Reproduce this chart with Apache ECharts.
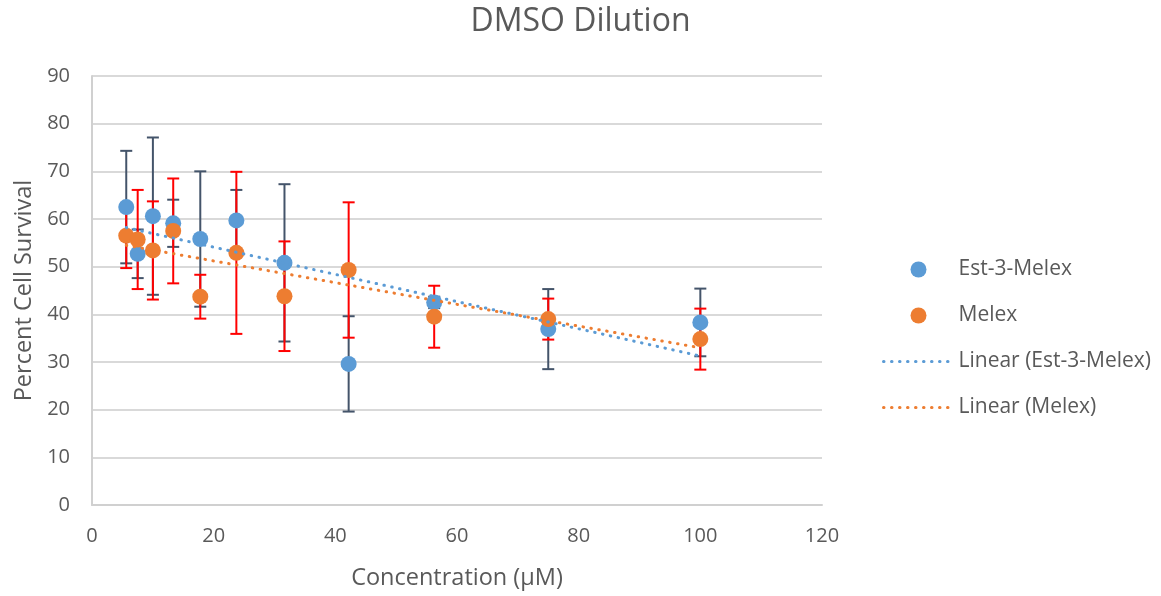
<!DOCTYPE html>
<html>
<head>
<meta charset="utf-8">
<script src="https://cdn.jsdelivr.net/npm/echarts@6/dist/echarts.min.js"></script>
<style>
html,body{margin:0;padding:0;background:#fff;}
#chart{width:1161px;height:596px;}
</style>
</head>
<body>
<div id="chart"></div>
<script>
// ---- Data ----
const concentrations = [5.63, 7.51, 10.01, 13.35, 17.8, 23.73, 31.64, 42.19, 56.25, 75, 100];
const est3Melex      = [62.5, 52.7, 60.6, 59.1, 55.8, 59.7, 50.8, 29.6, 42.5, 36.9, 38.3];
const est3MelexErr   = [11.8, 5.1, 16.5, 4.95, 14.2, 6.4, 16.5, 10.0, 1.2, 8.4, 7.1];
const melex          = [56.5, 55.7, 53.4, 57.5, 43.7, 52.9, 43.8, 49.3, 39.5, 39.0, 34.8];
const melexErr       = [6.8, 10.4, 10.3, 11.0, 4.6, 17.0, 11.5, 14.2, 6.5, 4.3, 6.4];
const xTicks = [0, 20, 40, 60, 80, 100, 120];
const yTicks = [0, 10, 20, 30, 40, 50, 60, 70, 80, 90];

// least-squares linear trend (as Excel's "Linear" trendline)
function linearTrend(xs, ys) {
  const n = xs.length;
  const mx = xs.reduce((a, b) => a + b, 0) / n;
  const my = ys.reduce((a, b) => a + b, 0) / n;
  let sxy = 0, sxx = 0;
  for (let i = 0; i < n; i++) { sxy += (xs[i] - mx) * (ys[i] - my); sxx += (xs[i] - mx) ** 2; }
  const b = sxy / sxx, a = my - b * mx;
  const x0 = Math.min(...xs), x1 = Math.max(...xs);
  return [[x0, a + b * x0], [x1, a + b * x1]];
}

const pts = (ys) => concentrations.map((x, i) => [x, ys[i]]);
const errPts = (ys, es) => concentrations.map((x, i) => [x, ys[i], es[i]]);

function errorBarRenderer(color) {
  return function (params, api) {
    const x = api.value(0), y = api.value(1), e = api.value(2);
    const top = api.coord([x, y + e]);
    const bot = api.coord([x, y - e]);
    const hw = 6;
    const style = { stroke: color, lineWidth: 2 };
    return {
      type: 'group',
      children: [
        { type: 'line', shape: { x1: top[0], y1: top[1], x2: bot[0], y2: bot[1] }, style },
        { type: 'line', shape: { x1: top[0] - hw, y1: top[1], x2: top[0] + hw, y2: top[1] }, style },
        { type: 'line', shape: { x1: bot[0] - hw, y1: bot[1], x2: bot[0] + hw, y2: bot[1] }, style }
      ]
    };
  };
}

const FONT = '"Open Sans", "DejaVu Sans", sans-serif';
const TXT = '#595959';
const BLUE = '#5B9BD5', ORANGE = '#ED7D31';
const DOTS = [0.5, 7.5];

const chart = echarts.init(document.getElementById('chart'), null, { renderer: 'canvas' });
chart.setOption({
  animation: false,
  backgroundColor: '#fff',
  textStyle: { fontFamily: FONT },
  title: {
    text: 'DMSO Dilution',
    left: 'center',
    top: 1,
    textStyle: { fontFamily: FONT, fontSize: 32, fontWeight: 'normal', color: TXT }
  },
  grid: { left: 92, right: 339, top: 76, bottom: 91, containLabel: false },
  legend: {
    orient: 'vertical',
    left: 882,
    top: 259,
    padding: 0,
    itemWidth: 70,
    itemHeight: 16,
    itemGap: 25,
    textStyle: { fontFamily: FONT, fontSize: 21, color: TXT, lineHeight: 20 },
    data: [
      { name: 'Est-3-Melex', icon: 'circle' },
      { name: 'Melex', icon: 'circle' },
      { name: 'Linear (Est-3-Melex)', itemStyle: { opacity: 0 },
        lineStyle: { color: BLUE, width: 3, type: DOTS, cap: 'round' } },
      { name: 'Linear (Melex)', itemStyle: { opacity: 0 },
        lineStyle: { color: ORANGE, width: 3, type: DOTS, cap: 'round' } }
    ]
  },
  xAxis: {
    type: 'value',
    min: xTicks[0],
    max: xTicks[xTicks.length - 1],
    interval: 20,
    name: 'Concentration (μM)',
    nameLocation: 'middle',
    nameGap: 61,
    nameTextStyle: { fontFamily: FONT, fontSize: 23.5, color: TXT },
    axisLine: { show: true, lineStyle: { color: '#D0D0D0', width: 2 } },
    axisTick: { show: false },
    splitLine: { show: false },
    axisLabel: { fontFamily: FONT, fontSize: 20, color: TXT, margin: 21 }
  },
  yAxis: {
    type: 'value',
    min: yTicks[0],
    max: yTicks[yTicks.length - 1],
    interval: 10,
    name: 'Percent Cell Survival',
    nameLocation: 'middle',
    nameGap: 56,
    nameTextStyle: { fontFamily: FONT, fontSize: 23.5, color: TXT },
    axisLine: { show: true, lineStyle: { color: '#D0D0D0', width: 2 } },
    axisTick: { show: false },
    splitLine: { show: true, lineStyle: { color: '#D9D9D9', width: 2 } },
    axisLabel: { fontFamily: FONT, fontSize: 20, color: TXT, margin: 22 }
  },
  series: [
    {
      name: 'Est-3-Melex err', type: 'custom', z: 1,
      renderItem: errorBarRenderer('#44546A'),
      data: errPts(est3Melex, est3MelexErr),
      encode: { x: 0, y: [1] }, silent: true
    },
    {
      name: 'Melex err', type: 'custom', z: 1,
      renderItem: errorBarRenderer('#FF0000'),
      data: errPts(melex, melexErr),
      encode: { x: 0, y: [1] }, silent: true
    },
    {
      name: 'Est-3-Melex', type: 'scatter', z: 3,
      symbol: 'circle', symbolSize: 16,
      itemStyle: { color: BLUE, opacity: 1 },
      data: pts(est3Melex)
    },
    {
      name: 'Melex', type: 'scatter', z: 3,
      symbol: 'circle', symbolSize: 16,
      itemStyle: { color: ORANGE, opacity: 1 },
      data: pts(melex)
    },
    {
      name: 'Linear (Est-3-Melex)', type: 'line', z: 5,
      symbol: 'none', showSymbol: false,
      itemStyle: { color: BLUE },
      lineStyle: { color: BLUE, width: 3, type: DOTS, cap: 'round' },
      data: linearTrend(concentrations, est3Melex)
    },
    {
      name: 'Linear (Melex)', type: 'line', z: 5,
      symbol: 'none', showSymbol: false,
      itemStyle: { color: ORANGE },
      lineStyle: { color: ORANGE, width: 3, type: DOTS, cap: 'round' },
      data: linearTrend(concentrations, melex)
    }
  ]
});
</script>
</body>
</html>
